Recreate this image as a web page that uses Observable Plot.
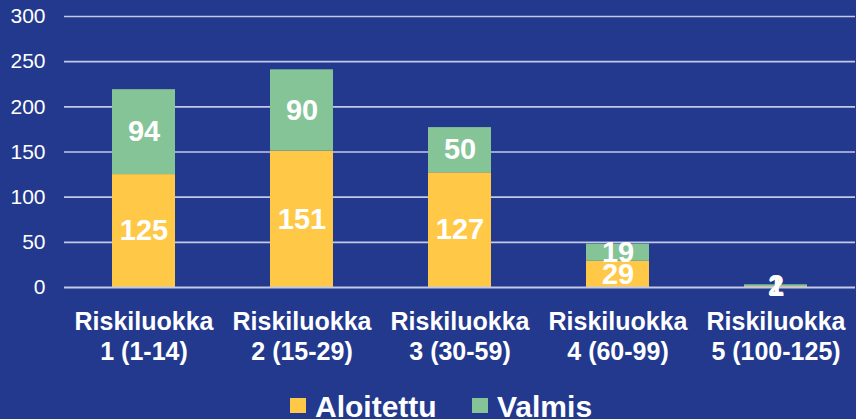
<!DOCTYPE html>
<html>
<head>
<meta charset="utf-8">
<script src="https://cdn.jsdelivr.net/npm/d3@7"></script>
<script src="https://cdn.jsdelivr.net/npm/@observablehq/plot@0.6"></script>
<style>
  html, body { margin: 0; padding: 0; background: #22398E; }
  #wrap { width: 856px; height: 419px; background: #22398E; position: relative; overflow: hidden; font-family: "Liberation Sans", Arial, sans-serif; }
  #legend { position: absolute; left: 0; top: 380px; width: 856px; height: 39px; }
  .item { position: absolute; top: 0; color: #fff; font-weight: bold; font-size: 30px; line-height: 39px; white-space: nowrap; }
  .sw { position: absolute; width: 16px; height: 15px; top: 18px; }
</style>
</head>
<body>
<div id="wrap">
  <div id="chart"></div>
  <div id="legend"></div>
</div>
<script>
const categories = ["Riskiluokka\n1 (1-14)", "Riskiluokka\n2 (15-29)", "Riskiluokka\n3 (30-59)", "Riskiluokka\n4 (60-99)", "Riskiluokka\n5 (100-125)"];
const aloitettu = [125, 151, 127, 29, 1];
const valmis = [94, 90, 50, 19, 2];
const seriesNames = ["Aloitettu", "Valmis"];
const seriesColors = ["#FFC847", "#84C497"];
const yTicks = [0, 50, 100, 150, 200, 250, 300];

const data = [];
categories.forEach((c, i) => {
  data.push({cat: c, series: seriesNames[0], value: aloitettu[i]});
  data.push({cat: c, series: seriesNames[1], value: valmis[i]});
});

const chart = Plot.plot({
  width: 856,
  height: 380,
  marginTop: 16,
  marginBottom: 93,
  marginLeft: 64,
  marginRight: 1,
  style: {background: "#22398E", fontFamily: "'Liberation Sans', Arial, sans-serif", color: "#fff"},
  x: {domain: categories, paddingInner: 0.6, paddingOuter: 0.3, label: null},
  y: {domain: [0, 300], ticks: yTicks, label: null},
  color: {domain: seriesNames, range: seriesColors},
  marks: [
    Plot.gridY(yTicks.slice(1), {stroke: "#C3C9E6", strokeOpacity: 1, strokeWidth: 1.6}),
    Plot.axisY(yTicks, {tickSize: 0, tickPadding: 19, fontSize: 21, fill: "#fff", label: null}),
    Plot.axisX({tickSize: 0, tickPadding: 21, fontSize: 25, fontWeight: "bold", fill: "#fff", lineHeight: 1.2, label: null}),
    Plot.barY(data, {x: "cat", y: "value", fill: "series", order: seriesNames}),
    Plot.gridY([0], {stroke: "#C3C9E6", strokeOpacity: 1, strokeWidth: 1.8}),
    Plot.text(data, Plot.stackY({x: "cat", y: "value", z: "series", order: seriesNames, text: d => String(d.value), fill: "#fff", fontSize: 29, fontWeight: "bold"}))
  ]
});
document.getElementById("chart").appendChild(chart);

const legend = document.getElementById("legend");
const legendPos = [{sw: 290, tx: 315}, {sw: 472, tx: 497}];
seriesNames.forEach((s, i) => {
  const sw = document.createElement("div");
  sw.className = "sw";
  sw.style.left = legendPos[i].sw + "px";
  sw.style.background = seriesColors[i];
  legend.appendChild(sw);
  const t = document.createElement("div");
  t.className = "item";
  t.style.left = legendPos[i].tx + "px";
  t.style.top = "7px";
  t.textContent = s;
  legend.appendChild(t);
});
</script>
</body>
</html>
